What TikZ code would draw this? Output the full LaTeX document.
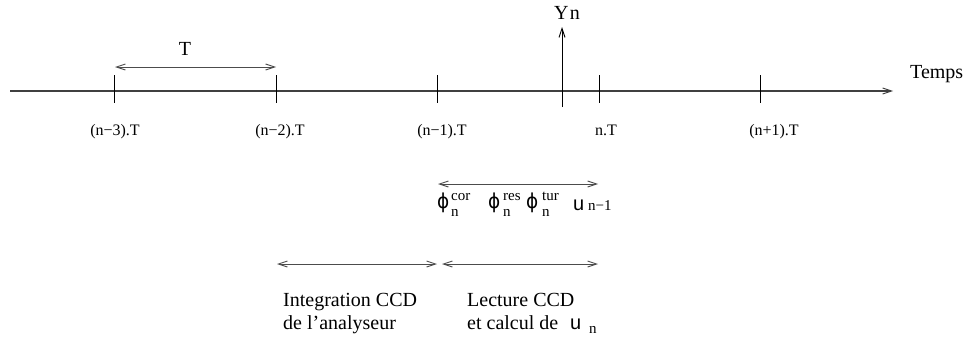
\documentclass[tikz,border=0pt]{standalone}
\usepackage{fontspec}
\setmainfont{Liberation Serif}
\newfontfamily\symfont{DejaVu Sans}
\newfontfamily\helv{Liberation Sans}
\usetikzlibrary{arrows.meta}
\tikzset{
  barb/.tip={Straight Barb[length=9pt,width=6pt,line width=0.9pt]},
  axisline/.style={line width=1.1pt, draw=black!75},
  tickmark/.style={line width=0.8pt, draw=black},
  span/.style={line width=1pt, draw=black!70, barb-barb},
  ticklbl/.style={font=\fontsize{16}{18}\selectfont, inner sep=0pt, anchor=base},
  biglbl/.style={font=\fontsize{20}{23}\selectfont, inner sep=0pt},
  phisym/.style={font=\symfont\fontsize{20.5}{22}\selectfont, inner sep=0pt, anchor=base west},
  usym/.style={font=\helv\fontsize{20}{22}\selectfont, inner sep=0pt, anchor=base west},
  idx/.style={font=\fontsize{15}{17}\selectfont, inner sep=0pt, anchor=base west},
}
\newcommand{\phiglyph}{\scalebox{0.9}[1]{ϕ}}
\begin{document}
\begin{tikzpicture}[x=1pt,y=-1pt]
\useasboundingbox (0,0) rectangle (965,340);
% time axis
\coordinate (a0) at (10,91);
\coordinate (a1) at (893,91);
\draw[axisline, -barb] (a0) -- (a1);
\node[biglbl, anchor=base west] (temps) at (910,78) {Temps};
% ticks
\foreach \i/\x in {1/114,2/276,3/437,4/599,5/760}{
  \coordinate (tt\i) at (\x,75);
  \coordinate (tb\i) at (\x,103);
  \draw[tickmark] (tt\i) -- (tb\i);
}
\node[ticklbl] (l1) at (115,135) {(n\textminus3).T};
\node[ticklbl] (l2) at (280,135) {(n\textminus2).T};
\node[ticklbl] (l3) at (442,135) {(n\textminus1).T};
\node[ticklbl] (l4) at (606,135) {n.T};
\node[ticklbl] (l5) at (774,135) {(n+1).T};
% period T
\coordinate (p0) at (115,67);
\coordinate (p1) at (276,67);
\draw[span] (p0) -- (p1);
\node[biglbl, anchor=base] (tlbl) at (185,55) {T};
% Yn
\coordinate (y0) at (562,107);
\coordinate (y1) at (562,27);
\draw[tickmark, -barb] (y0) -- (y1);
\node[biglbl, anchor=base] (yn) at (567,19) {Y\kern1.5pt n};
% phi row
\coordinate (f0) at (438,184);
\coordinate (f1) at (598,184);
\draw[span] (f0) -- (f1);
\node[phisym] (phi1) at (437,208) {\phiglyph};
\node[idx] (cor) at (451,200) {cor};
\node[idx] (n1) at (451,216) {n};
\node[phisym] (phi2) at (488,208) {\phiglyph};
\node[idx] (res) at (503,200) {res};
\node[idx] (n2) at (503,216) {n};
\node[phisym] (phi3) at (526,208) {\phiglyph};
\node[idx] (tur) at (542,200) {tur};
\node[idx] (n3) at (542,216) {n};
\node[usym] (u1) at (573,210) {u};
\node[idx] (nm1) at (588,210) {n\textminus1};
% lower spans
\coordinate (i0) at (277,264);
\coordinate (i1) at (437,264);
\draw[span] (i0) -- (i1);
\coordinate (r0) at (442,264);
\coordinate (r1) at (598,264);
\draw[span] (r0) -- (r1);
\node[biglbl, anchor=north west, align=left] (integ) at (283,293.5) {Integration CCD\\de l’analyseur};
\node[biglbl, anchor=north west, align=left] (lect) at (467,293.5) {Lecture CCD\\et calcul de};
\node[usym] (u2) at (570,329) {u};
\node[idx] (nsub) at (589,333) {n};
\end{tikzpicture}
\end{document}
